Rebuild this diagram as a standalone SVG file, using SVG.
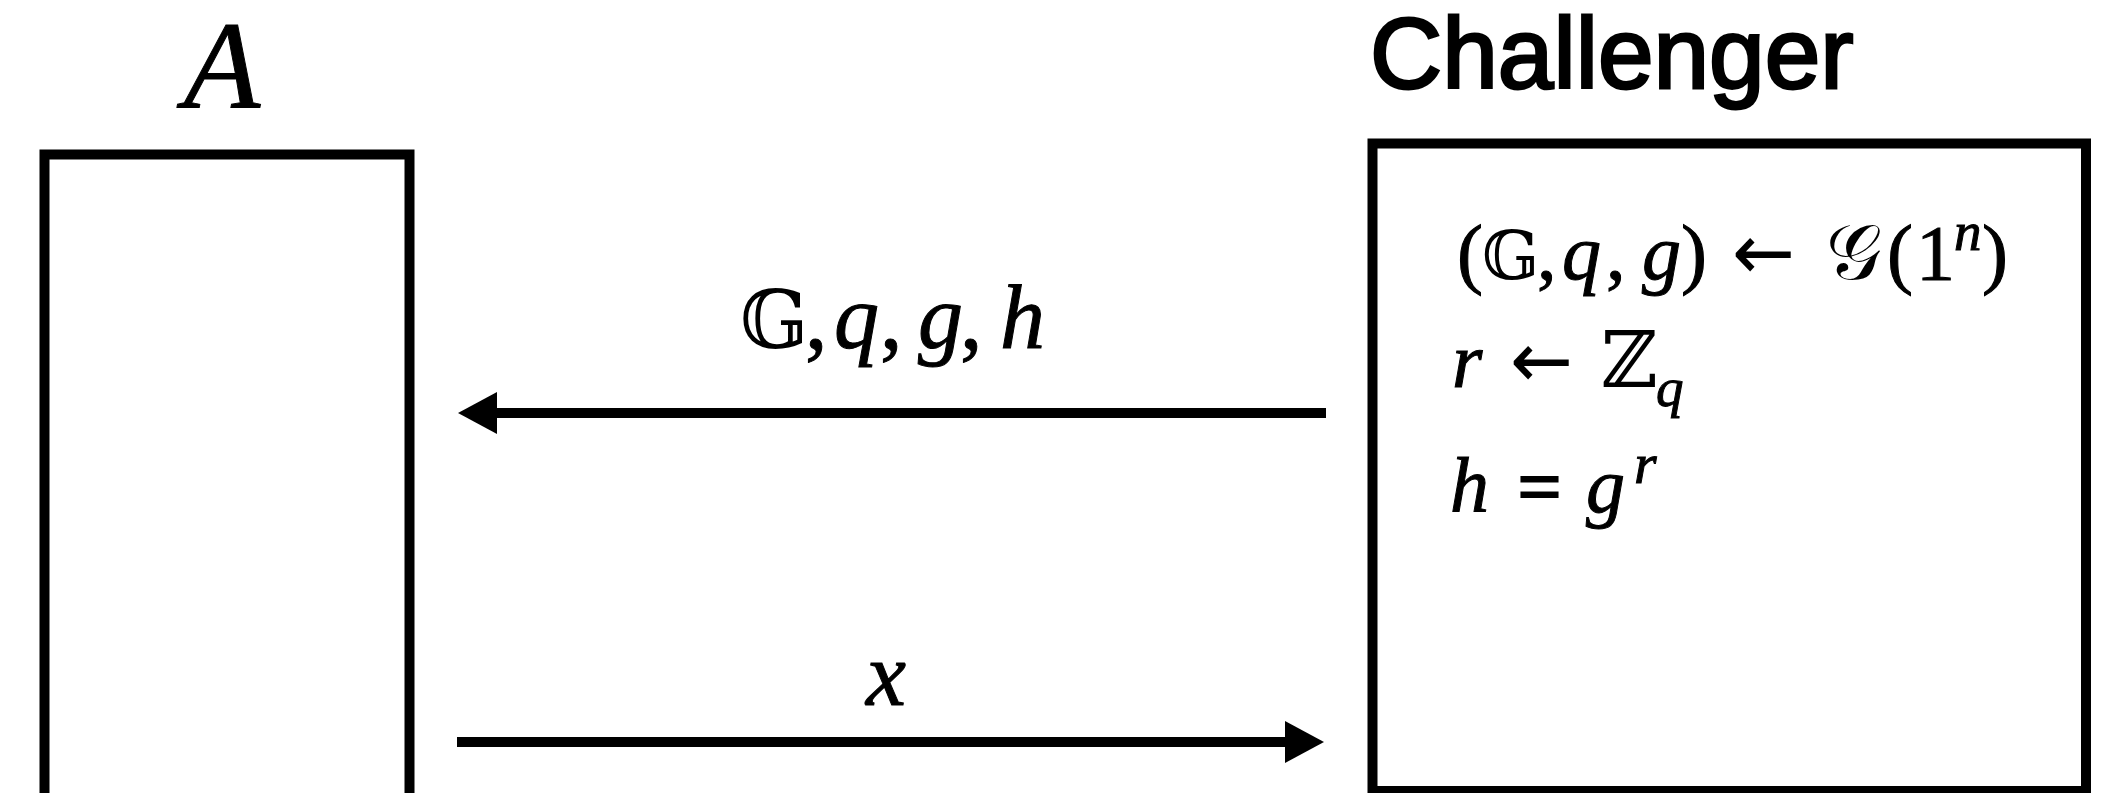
<svg xmlns="http://www.w3.org/2000/svg" width="2111" height="793" viewBox="0 0 2111 793">
<style>
.box{fill:none;stroke:#000;stroke-width:10}
.m{font-family:"Liberation Serif","DejaVu Serif",serif;fill:#000;stroke:#000;stroke-width:1}
.i{font-style:italic}
.bb{font-family:"DejaVu Serif","DejaVu Sans","Noto Sans",serif;font-style:normal;stroke-width:0}
.ar{font-family:"DejaVu Sans","Noto Sans",sans-serif;font-style:normal;stroke-width:0}
.head{font-family:"Liberation Sans",Arial,sans-serif;fill:#000;stroke:#000;stroke-width:2.8}
.conn{stroke:#000;stroke-width:10;fill:none}
</style>
<defs>
<marker id="ah" markerUnits="userSpaceOnUse" markerWidth="40" markerHeight="42" refX="0" refY="21" orient="auto">
<path d="M0,0 L39,21 L0,42 Z" fill="#000"/>
</marker>
</defs>
<rect width="2111" height="793" fill="#fff"/>
<g id="node-A">
<rect class="box" x="44.5" y="154.5" width="365" height="700"/>
<text class="m i" x="222" y="108" font-size="125" text-anchor="middle">A</text>
</g>
<g id="node-challenger">
<rect class="box" x="1372.5" y="143.5" width="713.5" height="647.5"/>
<text class="head" x="1370" y="88" font-size="100">Challenger</text>
<text class="m" font-size="78" y="279"><tspan x="1457">(</tspan><tspan class="bb" font-size="67" x="1482">𝔾</tspan><tspan x="1537">,</tspan><tspan class="i" x="1562">q</tspan><tspan x="1606">,</tspan><tspan class="i" x="1642">g</tspan><tspan x="1681">)</tspan></text>
<text class="m ar" font-size="78" x="1732" y="279" textLength="63" lengthAdjust="spacingAndGlyphs">←</text>
<text class="m" font-size="78" y="279"><tspan class="bb i" x="1826">𝒢</tspan><tspan x="1887">(</tspan><tspan x="1916">1</tspan><tspan x="1982">)</tspan></text>
<text class="m i" font-size="55" x="1954" y="250">n</text>
<text class="m i" font-size="78" x="1452" y="387">r</text>
<text class="m ar" font-size="78" x="1510" y="387" textLength="63" lengthAdjust="spacingAndGlyphs">←</text>
<text class="m bb" font-size="78" x="1601" y="387">ℤ</text>
<text class="m i" font-size="55" x="1656" y="406">q</text>
<text class="m i" font-size="78" x="1450" y="512">h</text>
<text class="m ar" font-size="78" x="1514" y="512" textLength="51" lengthAdjust="spacingAndGlyphs">=</text>
<text class="m i" font-size="78" x="1586" y="512">g</text>
<text class="m i" font-size="58" x="1634" y="483">r</text>
</g>
<g id="connectors">
<path class="conn" d="M1326,413 L497,413" marker-end="url(#ah)"/>
<text class="m" font-size="90" y="348"><tspan class="bb" font-size="80" x="740">𝔾</tspan><tspan x="805">,</tspan><tspan class="i" x="834">q</tspan><tspan x="880">,</tspan><tspan class="i" x="918">g</tspan><tspan x="960">,</tspan><tspan class="i" x="1000">h</tspan></text>
<path class="conn" d="M457,742 L1285,742" marker-end="url(#ah)"/>
<text class="m i" font-size="90" x="866" y="705">x</text>
</g>
</svg>
